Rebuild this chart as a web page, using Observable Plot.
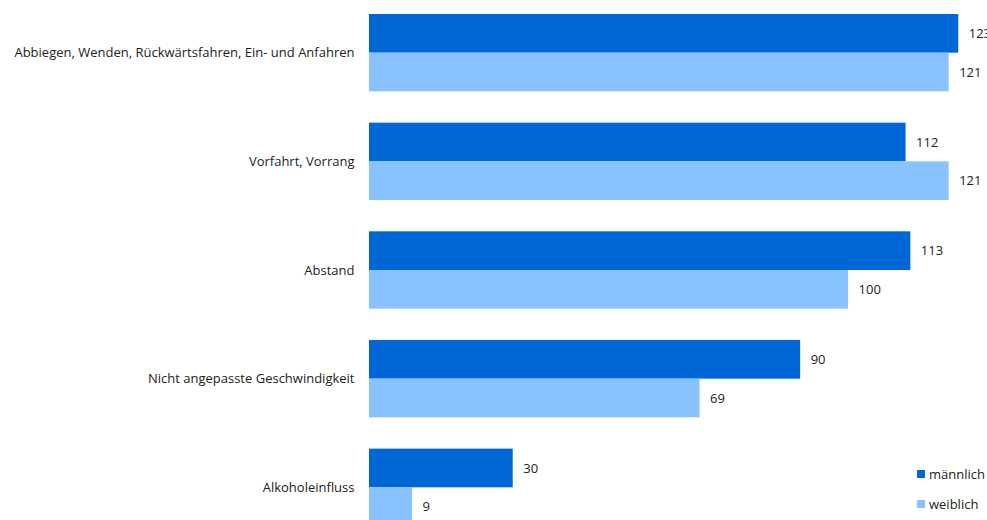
<!DOCTYPE html>
<html>
<head>
<meta charset="utf-8">
<script src="https://cdn.jsdelivr.net/npm/d3@7"></script>
<script src="https://cdn.jsdelivr.net/npm/@observablehq/plot@0.6"></script>
<style>
  html, body { margin: 0; padding: 0; background: #fff; overflow: hidden; }
  #wrap { position: relative; width: 987px; height: 520px; }
  .legend { position: absolute; left: 917px; font: 13px "Open Sans", sans-serif; color: #222; display: flex; align-items: center; }
  .legend span.sw { display: inline-block; width: 8px; height: 8px; margin-right: 4px; }
</style>
</head>
<body>
<div id="wrap"></div>
<script>
const categories = [
  "Abbiegen, Wenden, Rückwärtsfahren, Ein- und Anfahren",
  "Vorfahrt, Vorrang",
  "Abstand",
  "Nicht angepasste Geschwindigkeit",
  "Alkoholeinfluss"
];
const genders = ["männlich", "weiblich"];
const maleValues = [123, 112, 113, 90, 30];
const femaleValues = [121, 121, 100, 69, 9];
const colors = ["#0068d6", "#89c3ff"];

const data = [];
categories.forEach((c, i) => {
  data.push({category: c, gender: genders[0], value: maleValues[i]});
  data.push({category: c, gender: genders[1], value: femaleValues[i]});
});

const font = '"Open Sans", sans-serif';

const chart = Plot.plot({
  width: 987,
  height: 526,
  marginTop: 14,
  marginBottom: 0,
  marginLeft: 369,
  marginRight: 0,
  style: {fontFamily: font, fontSize: "13px", color: "#222", background: "white", overflow: "visible"},
  x: {domain: [0, 129], axis: null},
  y: {domain: genders, padding: 0, axis: null, round: false},
  fy: {domain: categories, paddingInner: 0.288, paddingOuter: 0, round: false, label: null, axis: null},
  color: {domain: genders, range: colors},
  marks: [
    Plot.barX(data, {x: "value", y: "gender", fy: "category", fill: "gender"}),
    Plot.text(data, {x: "value", y: "gender", fy: "category", text: d => String(d.value), dx: 10, textAnchor: "start", fill: "#222", fontSize: 13}),
    Plot.axisFy({anchor: "left", tickSize: 0, tickPadding: 15, fontSize: 13, label: null, fill: "#222"})
  ]
});
document.getElementById("wrap").appendChild(chart);

// legend
genders.forEach((g, i) => {
  const div = document.createElement("div");
  div.className = "legend";
  div.style.top = (465 + i * 30) + "px";
  const sw = document.createElement("span");
  sw.className = "sw";
  sw.style.background = colors[i];
  div.appendChild(sw);
  div.appendChild(document.createTextNode(g));
  document.getElementById("wrap").appendChild(div);
});
</script>
</body>
</html>
